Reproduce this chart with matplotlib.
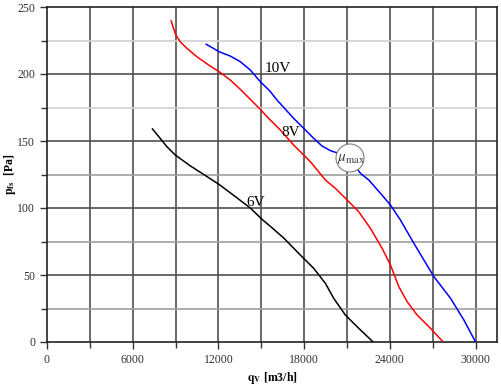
import numpy as np
import matplotlib
matplotlib.use('Agg')
import matplotlib.pyplot as plt
from matplotlib.patches import Circle

plt.rcParams['font.family'] = ['Liberation Serif', 'DejaVu Serif']
plt.rcParams['mathtext.fontset'] = 'stix'

# fan curves: flow [m3/h], static pressure [Pa]
q_10v = [11145, 12056, 12827, 13528, 14229, 14930, 15584, 16100, 17265, 17966,
         18667, 19251, 19836, 20420, 21300, 21939, 22523, 23341, 24042, 24743,
         25678, 27079, 28248, 29182, 30000]
p_10v = [222.2, 216.6, 213.4, 209.2, 203.0, 194.3, 187.5, 180.6, 166.9, 159.5,
         152.0, 146.3, 142.8, 140.8, 135.0, 125.9, 120.9, 111.0, 102.2, 91.0,
         73.7, 48.8, 32.6, 16.4, 0.0]

q_8v = [8692, 8855, 9020, 9322, 9791, 10492, 11425, 12056, 12827, 13528, 14229,
        14930, 15514, 16332, 17265, 18434, 19486, 20187, 21006, 21823, 22640,
        23458, 24042, 24626, 25210, 25911, 26845, 27733]
p_8v = [239.6, 234.1, 229.1, 224.1, 219.2, 212.9, 205.9, 201.7, 195.5, 188.6, 181.1,
        173.6, 166.9, 158.2, 147.0, 134.6, 120.9, 114.7, 106.0, 97.2, 84.8,
        69.9, 57.5, 41.3, 30.1, 20.1, 10.2, 0.0]

q_6v = [7381, 7920, 8388, 8972, 10023, 11192, 12056, 13061, 14229, 15046, 15800,
        16590, 17733, 18667, 19486, 20070, 20888, 21823, 22830]
p_6v = [159.0, 152.0, 145.8, 139.6, 131.5, 123.5, 117.5, 109.5, 100.0, 91.6, 84.8,
        77.4, 64.9, 55.0, 43.8, 32.6, 20.1, 10.2, 0.0]

x_ticks = [0, 6000, 12000, 18000, 24000, 30000]
y_ticks = [0, 50, 100, 150, 200, 250]

fig = plt.figure(figsize=(5.01, 3.87), dpi=100)
ax = fig.add_axes([47 / 501, 45 / 387, 450 / 501, 335 / 387])

ax.set_xlim(0, 31500)
ax.set_ylim(0, 250)

# grid
for x in np.arange(3000, 31500, 3000):
    ax.axvline(x, color='#505050', lw=1.2, zorder=1)
for y in np.arange(25, 250, 25):
    if y in (175, 225):
        c = '#d0d0d0'
    elif y % 50:
        c = '#a0a0a0'
    else:
        c = '#505050'
    ax.axhline(y, color=c, lw=1.2, zorder=1)

ax.plot(q_10v, p_10v, color='blue', lw=1.1, zorder=3)
ax.plot(q_8v, p_8v, color='red', lw=1.1, zorder=3)
ax.plot(q_6v, p_6v, color='black', lw=1.1, zorder=3)

ax.text(16122, 204, '10V', fontsize=11, ha='center', va='center', zorder=4)
ax.text(17033, 156, '8V', fontsize=11, ha='center', va='center', zorder=4)
ax.text(14580, 104, '6V', fontsize=11, ha='center', va='center', zorder=4)

# efficiency marker
circ = Circle((350, 229), 14, transform=None, facecolor='white',
              edgecolor='#808080', lw=0.8, zorder=5)
ax.add_artist(circ)
ax.text(21300, 136.5, r'$\mu_{\mathrm{max}}$', fontsize=11, ha='center',
        va='center', color='#404040', zorder=6)

ax.set_xticks(x_ticks)
ax.set_xticks(np.arange(0, 31500, 3000), minor=True)
ax.set_yticks(y_ticks)
ax.set_yticks(np.arange(0, 251, 25), minor=True)
ax.tick_params(which='both', direction='out', length=5, width=1, labelsize=8.5,
               colors='#333333')
ax.tick_params(which='minor', length=4)

for s in ax.spines.values():
    s.set_color('#222222')
    s.set_linewidth(1.2)

ax.set_xlabel(r'$\mathbf{q_V}$ [m3/h]', fontsize=8.5, fontweight='bold')
ax.set_ylabel(r'$\mathbf{p_{fs}}$  [Pa]', fontsize=8.5, fontweight='bold')
ax.xaxis.set_label_coords(0.5, -0.085)
ax.yaxis.set_label_coords(-0.065, 0.5)

fig.savefig('out.png', dpi=100)
